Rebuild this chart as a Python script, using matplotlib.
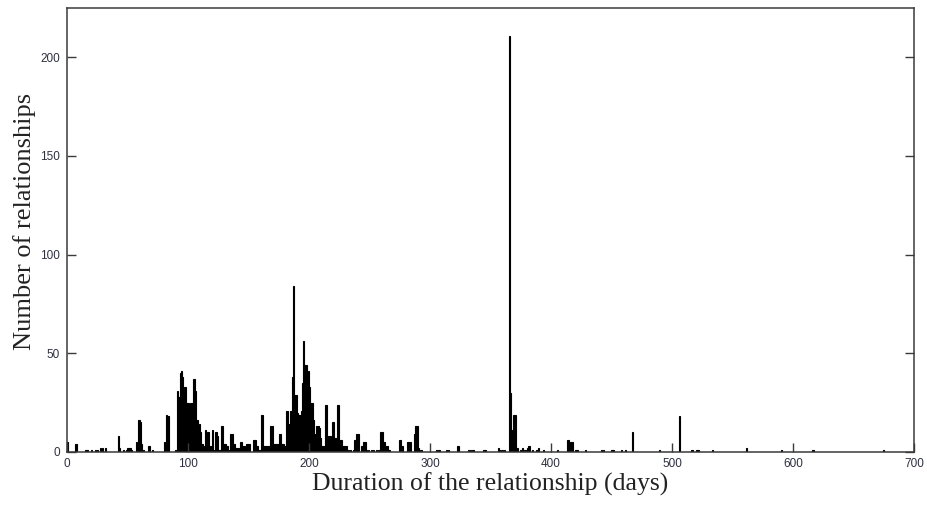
import matplotlib
matplotlib.use("Agg")
import matplotlib.pyplot as plt

# (duration in days, number of relationships); days not listed have zero.
early = [(0, 5), (7, 4), (15, 1), (16, 1), (20, 1), (23, 1), (25, 1), (27, 2), (29, 2), (31, 2),
         (42, 8), (43, 2), (46, 1), (49, 1), (50, 2), (51, 2), (52, 2), (53, 1), (57, 5),
         (59, 16), (60, 15), (61, 4), (63, 1), (67, 3), (68, 3), (70, 1), (80, 5), (82, 19),
         (83, 18), (89, 1)]
peak_100 = [(91, 31), (92, 28), (93, 40), (94, 41), (95, 38), (96, 25), (97, 33), (98, 25),
            (99, 25), (100, 25), (101, 11), (102, 25), (103, 25), (104, 37), (105, 37),
            (106, 31), (107, 16), (108, 11), (109, 14), (110, 10), (111, 4), (112, 3),
            (113, 2), (114, 11), (115, 3), (116, 10), (117, 1), (118, 3), (119, 3), (120, 11),
            (121, 1), (122, 10), (123, 10), (124, 8), (125, 1), (126, 1), (127, 13), (128, 13),
            (129, 4), (130, 4), (131, 3), (132, 3), (133, 1), (134, 1), (135, 9), (136, 9),
            (137, 4), (138, 4), (139, 2), (140, 2), (141, 2), (142, 1), (143, 5), (144, 5),
            (145, 3), (146, 3), (147, 1), (148, 4), (149, 4), (150, 4)]
peak_190 = [(154, 6), (155, 6), (156, 3), (157, 3), (158, 1), (159, 1), (160, 19), (161, 19),
            (162, 3), (163, 3), (164, 3), (165, 3), (166, 3), (167, 3), (168, 13), (169, 13),
            (170, 4), (171, 4), (172, 4), (173, 4), (174, 4), (175, 9), (176, 9), (177, 4),
            (178, 4), (179, 3), (180, 3), (181, 21), (182, 21), (183, 14), (184, 21), (185, 21),
            (186, 38), (187, 84), (188, 29), (189, 29), (190, 20), (191, 19), (192, 19),
            (193, 21), (194, 35), (195, 56), (196, 44), (197, 44), (198, 40), (199, 41),
            (200, 33), (201, 25), (202, 25), (203, 16), (204, 9), (205, 9), (206, 13), (207, 13),
            (208, 12), (209, 7), (210, 3), (211, 3), (212, 2), (213, 24), (214, 24), (215, 1),
            (216, 8), (217, 8), (219, 15), (220, 15), (221, 7), (222, 7), (223, 24), (224, 24),
            (225, 6), (226, 6), (227, 3), (228, 3), (229, 3), (230, 3)]
mid = [(232, 1), (234, 1), (236, 1), (237, 6), (238, 6), (239, 9), (240, 9), (243, 3), (244, 3),
       (245, 5), (246, 5), (247, 1), (249, 1), (251, 1), (253, 1), (255, 1), (257, 1), (259, 10),
       (260, 10), (261, 5), (262, 5), (263, 3), (264, 3), (265, 1), (266, 1), (274, 6), (275, 6),
       (276, 3), (277, 3), (281, 5), (282, 5), (283, 5), (287, 9), (288, 13), (289, 13), (290, 2),
       (292, 1), (305, 1), (307, 1), (313, 1), (315, 1), (322, 3), (323, 3), (331, 1), (333, 1),
       (335, 1), (344, 1), (345, 1), (356, 2), (357, 1), (359, 1), (361, 1)]
late = [(365, 211), (366, 30), (367, 11), (368, 11), (369, 19), (370, 19), (371, 2), (372, 2),
        (374, 1), (376, 2), (378, 1), (380, 2), (381, 3), (382, 3), (384, 1), (388, 1), (389, 2),
        (393, 1), (405, 1), (413, 6), (414, 6), (415, 3), (416, 5), (417, 5), (420, 1), (421, 1),
        (428, 1), (441, 1), (443, 1), (450, 1), (451, 1), (458, 1), (461, 1), (467, 10), (489, 1),
        (506, 18), (516, 1), (520, 1), (521, 1), (533, 1), (561, 2), (590, 1), (616, 1), (674, 1)]

x_ticks = [0, 100, 200, 300, 400, 500, 600, 700]
y_ticks = [0, 50, 100, 150, 200]

pairs = early + peak_100 + peak_190 + mid + late
days = [d for d, _ in pairs]
counts = [c for _, c in pairs]

fig = plt.figure(figsize=(9.27, 5.07), dpi=100)
ax = fig.add_axes([67/927, 1 - 452/507, (914 - 67)/927, (452 - 8)/507])

ax.bar(days, counts, width=1.0, align='edge', color='black', edgecolor='black', linewidth=0.8)

ax.set_xlim(0, 700)
ax.set_ylim(0, 225)
ax.set_xticks(x_ticks)
ax.set_yticks(y_ticks)

frame_col = '#3a3a3a'
for s in ax.spines.values():
    s.set_color(frame_col)
    s.set_linewidth(1.1)
    s.set_zorder(3)

ax.tick_params(axis='both', direction='in', length=6.5, width=1.0, color=frame_col,
               labelsize=8.5, labelcolor='#2e3040')
ax.tick_params(axis='y', right=True, left=True, pad=5)
ax.tick_params(axis='x', top=False, pad=4)
for lab in ax.get_xticklabels() + ax.get_yticklabels():
    lab.set_family(['Liberation Sans', 'DejaVu Sans'])

ax.set_xlabel('Duration of the relationship (days)', family=['Liberation Serif', 'DejaVu Serif'],
              fontsize=18.5, color='#222222', labelpad=2)
ax.set_ylabel('Number of relationships', family=['Liberation Serif', 'DejaVu Serif'],
              fontsize=19, color='#222222')
ax.yaxis.set_label_coords(-0.037, 0.52)

fig.savefig('out.png', dpi=100)
